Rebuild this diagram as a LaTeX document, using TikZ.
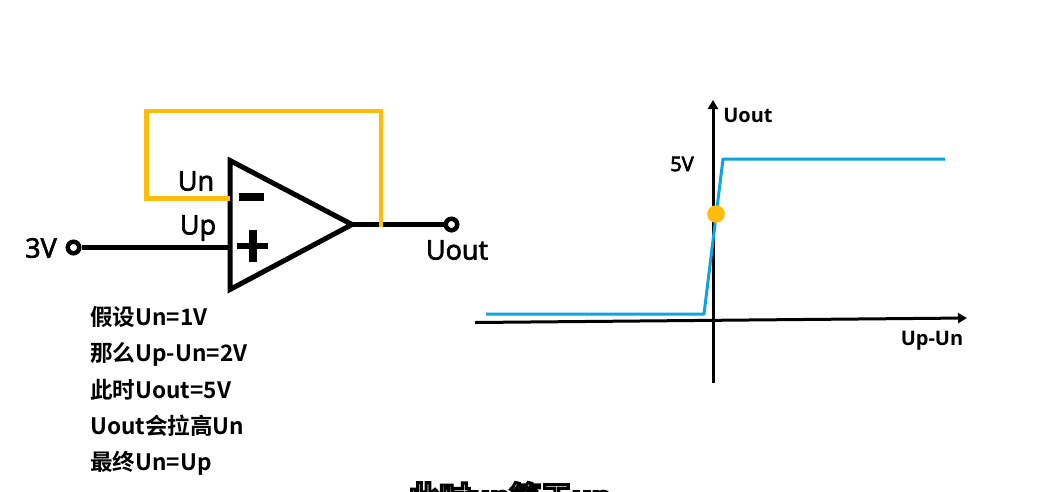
\documentclass[tikz,border=0pt]{standalone}
\usepackage{fontspec}
\setmainfont{Open Sans}
\newfontfamily\cjk{Noto Sans CJK SC}[BoldFont={* Bold}]
\usepackage{xcolor}
\usetikzlibrary{arrows.meta, positioning, calc}
\definecolor{feedback}{HTML}{FFBC0D}
\definecolor{curve}{HTML}{0FA3E0}
\newcommand{\heavytext}[1]{\special{pdf:literal 2 Tr 0.7 w}#1\special{pdf:literal 0 Tr}}
\tikzset{
  wire/.style={line width=4.5pt, black},
  terminal/.style={circle, draw=black, line width=4.5pt, fill=white, inner sep=0pt, minimum size=11.5pt},
  loopwire/.style={line width=4.5pt, feedback, line join=miter},
  axis/.style={line width=3pt, black, -{Triangle[length=9pt,width=10pt]}},
  pinlabel/.style={inner sep=0pt, font=\fontsize{27}{27}\selectfont},
  graphlabel/.style={inner sep=0pt, font=\fontsize{20}{20}\selectfont},
  notes/.style={inner sep=0pt, anchor=base west, font=\cjk\bfseries\fontsize{22.6}{23}\selectfont}
}
\begin{document}
\begin{tikzpicture}[x=1pt, y=-1pt]
\useasboundingbox (0,0) rectangle (1047,491);
\clip (0,0) rectangle (1047,491);
\fill[white] (0,0) rectangle (1047,491);

% Op amp
\coordinate (nin) at (230,198.5);
\coordinate (pin) at (230,247.5);
\coordinate (out) at (352,224.5);
\coordinate (tap) at (381,226.5);
\node[terminal] (vin) at (73.5,247.5) {};
\node[terminal] (vout) at (451.5,224.5) {};
\draw[wire] (vin) -- (pin);
\draw[wire] (out) -- (vout);
\draw[line width=5pt, black, miter limit=10] (230,160.5) -- (352,224.5) -- (230,289.5) -- cycle;

% Feedback
\draw[loopwire] (tap) -- (381,111) -- (146.5,111) -- (146.5,198.5) -- (nin);

% Signs
\fill (239,193) rectangle (264,201);
\fill (237,243) rectangle (268,249);
\fill (249,230) rectangle (256.5,262);

% Pin labels
\node[pinlabel] (un) at (196,181) {\heavytext{Un}};
\node[pinlabel] (up) at (198,228) {\heavytext{Up}};
\node[pinlabel] (three) at (41,248) {\heavytext{3V}};
\node[pinlabel] (uoutpin) at (457,250) {\heavytext{Uout}};

% Notes
\node[notes] (n1) at (90,325.5) {假设Un=1V};
\node[notes] (n2) at (90,361.5) {那么Up-Un=2V};
\node[notes] (n3) at (90,398.5) {此时Uout=5V};
\node[notes] (n4) at (90,434.5) {Uout会拉高Un};
\node[notes] (n5) at (90,470.5) {最终Un=Up};

% Transfer curve
\coordinate (xstart) at (475,322.5);
\coordinate (xend) at (967,318);
\coordinate (ystart) at (713,383);
\coordinate (yend) at (713,100);
\draw[axis] (xstart) -- (xend);
\draw[axis] (ystart) -- (yend);
\draw[line width=3pt, curve, line join=round] (486,314) -- (704,314) -- (723,159) -- (945,159);
\fill[feedback] (716,214) circle (8.8pt);
\node[graphlabel] (uouty) at (748,115) {\bfseries Uout};
\node[graphlabel] (five) at (682,164) {\heavytext{5V}};
\node[graphlabel] (upun) at (932,340.5) {\bfseries Up-Un};

% Subtitle
\node[inner sep=0pt, text=white, font=\cjk\bfseries\fontsize{31}{31}\selectfont] (sub) at (510,499) {\pgfsetstrokecolor{black}\special{pdf:literal 2 Tr 3 w}此时un等于up\special{pdf:literal 0 Tr}};
\end{tikzpicture}
\end{document}
